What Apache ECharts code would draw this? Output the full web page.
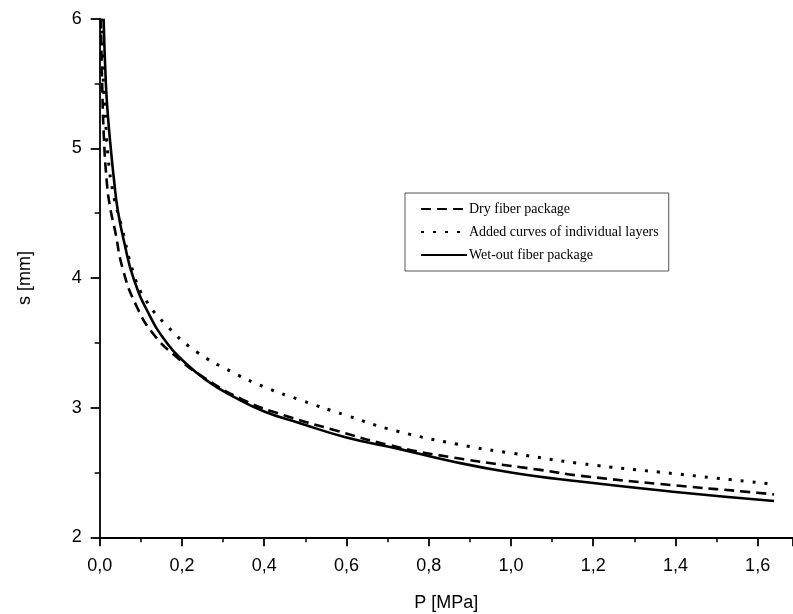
<!DOCTYPE html>
<html>
<head>
<meta charset="utf-8">
<script src="https://cdn.jsdelivr.net/npm/echarts@6/dist/echarts.min.js"></script>
<style>
html,body{margin:0;padding:0;background:#fff;}
#chart{width:793px;height:614px;}
</style>
</head>
<body>
<div id="chart"></div>
<script>
// Data
const seriesNames = ['Dry fiber package', 'Added curves of individual layers', 'Wet-out fiber package'];

const dryP = [0.003, 0.006, 0.010, 0.017, 0.025, 0.037, 0.057, 0.090, 0.130, 0.187, 0.250, 0.349, 0.450, 0.568, 0.706, 0.850, 1.071, 1.168, 1.400, 1.598, 1.640];
const dryS = [6.00, 5.50, 5.10, 4.75, 4.55, 4.37, 4.06, 3.78, 3.57, 3.39, 3.24, 3.06, 2.94, 2.83, 2.71, 2.62, 2.52, 2.475, 2.40, 2.344, 2.33];

const addP = [0.005, 0.009, 0.013, 0.020, 0.033, 0.053, 0.082, 0.110, 0.167, 0.236, 0.325, 0.400, 0.487, 0.600, 0.722, 0.900, 1.000, 1.168, 1.400, 1.640];
const addS = [6.00, 5.50, 5.30, 4.95, 4.65, 4.40, 4.04, 3.84, 3.62, 3.43, 3.27, 3.16, 3.06, 2.94, 2.82, 2.70, 2.65, 2.57, 2.49, 2.41];

const wetP = [0.0095, 0.015, 0.020, 0.027, 0.035, 0.044, 0.060, 0.082, 0.120, 0.163, 0.200, 0.260, 0.325, 0.400, 0.487, 0.600, 0.730, 0.850, 1.000, 1.168, 1.400, 1.640];
const wetS = [6.00, 5.50, 5.25, 5.00, 4.75, 4.52, 4.27, 4.00, 3.72, 3.50, 3.37, 3.21, 3.085, 2.97, 2.88, 2.77, 2.68, 2.59, 2.50, 2.43, 2.35, 2.28];

const xTickInterval = 0.2;
const yTickInterval = 1;

function pairs(xs, ys) { return xs.map((x, i) => [x, ys[i]]); }

const chart = echarts.init(document.getElementById('chart'), null, {renderer: 'canvas'});
const axisFont = {fontFamily: 'Liberation Sans, Arial, sans-serif', fontSize: 18, color: '#000'};

chart.setOption({
  animation: false,
  backgroundColor: '#fff',
  grid: {left: 99.7, top: 18.7, bottom: 76.7, right: 0, containLabel: false, outerBoundsMode: 'none'},
  legend: {
    orient: 'vertical',
    left: 405, top: 193,
    data: seriesNames,
    selectedMode: false,
    itemWidth: 46, itemHeight: 14, itemGap: 9,
    padding: [9, 10, 9, 15],
    borderColor: '#555', borderWidth: 1, borderRadius: 0,
    itemStyle: {opacity: 0, borderWidth: 0},
    textStyle: {fontFamily: 'Liberation Serif, Times New Roman, serif', fontSize: 14, color: '#000', padding: [0, 0, 0, -3]}
  },
  xAxis: {
    type: 'value', min: 0, max: 1.686, interval: xTickInterval,
    name: 'P [MPa]', nameLocation: 'middle', nameGap: 57,
    nameTextStyle: axisFont,
    axisLine: {show: true, onZero: false, lineStyle: {color: '#000', width: 1.8}},
    axisTick: {show: true, inside: false, length: 9, lineStyle: {color: '#000', width: 1.8}},
    minorTick: {show: true, splitNumber: 2, length: 5, lineStyle: {color: '#000', width: 1.5}},
    splitLine: {show: false},
    axisLabel: Object.assign({margin: 20, showMaxLabel: false,
      formatter: v => v.toFixed(1).replace('.', ',')}, axisFont)
  },
  yAxis: {
    type: 'value', min: 2, max: 6, interval: yTickInterval,
    name: 's [mm]', nameLocation: 'middle', nameGap: 66,
    nameTextStyle: axisFont,
    axisLine: {show: true, onZero: false, lineStyle: {color: '#000', width: 1.8}},
    axisTick: {show: true, inside: false, length: 9, lineStyle: {color: '#000', width: 1.8}},
    minorTick: {show: true, splitNumber: 2, length: 5, lineStyle: {color: '#000', width: 1.5}},
    splitLine: {show: false},
    axisLabel: Object.assign({margin: 18}, axisFont)
  },
  series: [
    {name: seriesNames[0], type: 'line', data: pairs(dryP, dryS), symbol: 'none', showSymbol: false,
     smooth: 0.5, color: '#000',
     lineStyle: {color: '#000', width: 2.6, type: [10, 6]}},
    {name: seriesNames[1], type: 'line', data: pairs(addP, addS), symbol: 'none', showSymbol: false,
     smooth: 0.5, color: '#000',
     lineStyle: {color: '#000', width: 3, type: [3, 9]}},
    {name: seriesNames[2], type: 'line', data: pairs(wetP, wetS), symbol: 'none', showSymbol: false,
     smooth: 0.5, color: '#000',
     lineStyle: {color: '#000', width: 2.6, type: 'solid'}}
  ]
});
</script>
</body>
</html>
